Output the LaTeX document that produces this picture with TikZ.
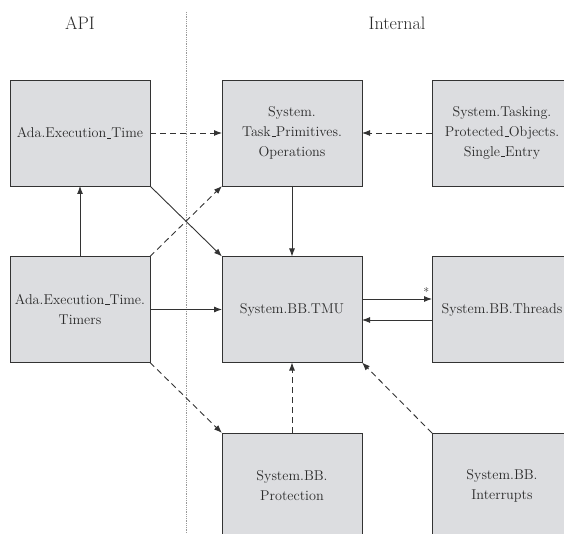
\documentclass[tikz,border=0pt]{standalone}
\usetikzlibrary{arrows.meta}
\definecolor{boxfill}{HTML}{DCDDE0}
\definecolor{boxline}{HTML}{333333}
\definecolor{txt}{HTML}{2A2A2A}
\newcommand{\us}{\leavevmode\kern.06em\vbox{\hrule width.3em height 0.4pt}}
\tikzset{
  pkg/.style={draw=boxline, fill=boxfill, line width=0.9pt, minimum width=140pt, minimum height=106pt,
    inner sep=0pt, outer sep=0pt, align=center, text=txt,
    font=\fontsize{14.2}{20}\selectfont},
  hdr/.style={text=txt, font=\fontsize{18}{22}\selectfont},
  arr/.style={draw=boxline, line width=0.9pt, -{Latex[length=8pt,width=6pt]}},
  darr/.style={arr, dash pattern=on 6pt off 4pt},
  sep/.style={draw=gray!80, line width=0.8pt, dash pattern=on 0.8pt off 1pt}
}
\begin{document}
\begin{tikzpicture}[x=1pt,y=-1pt]
\useasboundingbox (0,0) rectangle (564,534);
\clip (0,0) rectangle (564,534);
\node[hdr] (api) at (80,23) {API};
\node[hdr] (int) at (397,23) {Internal};
\coordinate (septop) at (186,12);
\coordinate (sepbot) at (186,534);
\draw[sep] (septop) -- (sepbot);
\node[pkg] (A) at (80,133) {Ada.Execution\us Time};
\node[pkg] (B) at (292,133) {System.\\Task\us Primitives.\\Operations};
\node[pkg] (C) at (502,133) {System.Tasking.\\Protected\us Objects.\\Single\us Entry};
\node[pkg] (D) at (80,309.5) {Ada.Execution\us Time.\\Timers};
\node[pkg] (E) at (292,309.5) {System.BB.TMU};
\node[pkg] (F) at (502,309.5) {System.BB.Threads};
\node[pkg] (G) at (292,486) {System.BB.\\Protection};
\node[pkg] (H) at (502,486) {System.BB.\\Interrupts};
\draw[darr] (A.east) -- (B.west);
\draw[darr] (C.west) -- (B.east);
\draw[arr] (A.south east) -- (E.north west);
\draw[darr] (D.north east) -- (B.south west);
\draw[arr] (D.north) -- (A.south);
\draw[arr] (B.south) -- (E.north);
\draw[arr] (D.east) -- (E.west);
\draw[arr] ([yshift=10.5pt]E.east) -- node[pos=0.92, above, inner sep=2pt, text=txt, font=\fontsize{12}{14}\selectfont] (star) {*} ([yshift=10.5pt]F.west);
\draw[arr] ([yshift=-10.5pt]F.west) -- ([yshift=-10.5pt]E.east);
\draw[darr] (D.south east) -- (G.north west);
\draw[darr] (G.north) -- (E.south);
\draw[darr] (H.north west) -- (E.south east);
\end{tikzpicture}
\end{document}
